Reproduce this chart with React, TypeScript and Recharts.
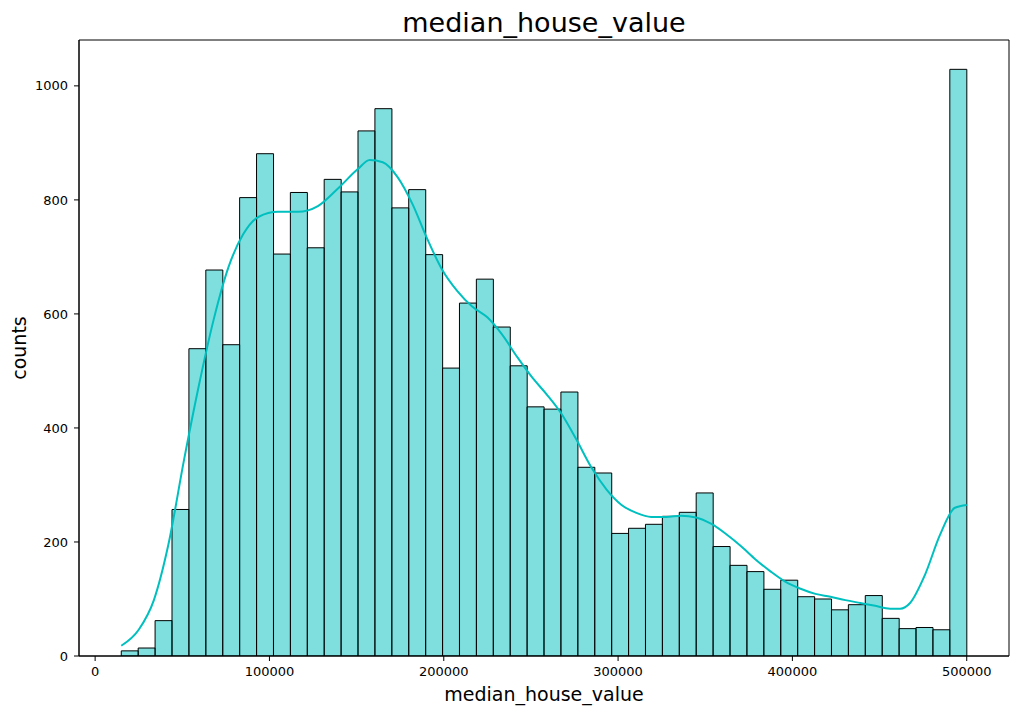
import React from 'react';
import { ComposedChart, Bar, Line, XAxis, YAxis, Customized, ReferenceArea } from 'recharts';

// ---- data ----
const BIN_MIN = 14999;
const BIN_MAX = 500001;
const COUNTS = [
  9, 14, 62, 257, 539, 677, 546, 804, 881, 705,
  813, 716, 836, 814, 921, 960, 786, 818, 704, 505,
  619, 661, 577, 509, 437, 433, 463, 331, 321, 215,
  224, 231, 245, 252, 286, 192, 159, 148, 117, 133,
  104, 100, 81, 90, 106, 66, 48, 50, 46, 1029,
];
const KDE_X = [
  15000, 25000, 33700, 42000, 51000, 59000, 68000, 76500, 85000, 93600,
  105000, 116400, 127800, 139000, 150700, 157500, 165000, 173500, 182000, 190600,
  199000, 207800, 216300, 225000, 233400, 242000, 250600, 259000, 267700, 276000,
  284800, 293400, 302000, 310500, 319000, 327600, 336200, 344700, 353300, 361900,
  370400, 379000, 387600, 396100, 404700, 413200, 421800, 430400, 438900, 447500,
  456000, 461800, 467500, 476000, 484600, 493200, 500000,
];
const KDE_Y = [
  18, 46, 98, 195, 344, 467, 590, 682, 740, 770,
  779, 779, 789, 819, 854, 870, 866, 840, 793, 731,
  678, 640, 613, 594, 564, 525, 489, 459, 424, 380,
  330, 292, 265, 251, 244, 244, 246, 243, 232, 214,
  193, 169, 148, 130, 118, 109, 104, 98, 93, 88,
  83, 83, 93, 142, 212, 260, 265,
];
const X_TICKS = [0, 100000, 200000, 300000, 400000, 500000];
const Y_TICKS = [0, 200, 400, 600, 800, 1000];
const TITLE = 'median_house_value';
const X_LABEL = 'median_house_value';
const Y_LABEL = 'counts';

const BIN_W = (BIN_MAX - BIN_MIN) / COUNTS.length;
const histData = COUNTS.map((c, i) => ({ x: BIN_MIN + (i + 0.5) * BIN_W, count: c }));
const kdeData = KDE_X.map((x, i) => ({ x, kde: KDE_Y[i] }));

const PAD = 0.05 * (BIN_MAX - BIN_MIN);
const X_DOMAIN: [number, number] = [BIN_MIN - PAD, BIN_MAX + PAD];
const Y_DOMAIN: [number, number] = [0, Math.max(...COUNTS) * 1.05];

const FONT = "'DejaVu Sans', Verdana, sans-serif";
const CYAN = '#00BFBF';

const Texts = () => (
  <g style={{ fontFamily: FONT }}>
    <text x={536} y={24} textAnchor="middle" fontSize={27} fill="#000">{TITLE}</text>
    <text x={536} y={693} textAnchor="middle" fontSize={19} fill="#000">{X_LABEL}</text>
    <text
      x={11}
      y={340}
      textAnchor="middle"
      fontSize={19}
      fill="#000"
      transform="rotate(-90 11 340)"
      dominantBaseline="central"
    >
      {Y_LABEL}
    </text>
  </g>
);

export default function App() {
  return (
    <div style={{ width: 1011, height: 707, fontFamily: FONT }}>
      <ComposedChart
        width={1011}
        height={707}
        data={histData}
        margin={{ top: 32, right: 10, bottom: 0, left: 0 }}
        barCategoryGap={0}
        barGap={0}
      >
        <XAxis
          xAxisId="bars"
          dataKey="x"
          type="number"
          domain={X_DOMAIN}
          ticks={X_TICKS}
          allowDataOverflow
          height={59}
          tickSize={5}
          tickMargin={6}
          tick={{ fontSize: 13, fill: '#000' }}
          axisLine={{ stroke: '#000' }}
          tickLine={{ stroke: '#000' }}
        />
        <XAxis
          xAxisId="kde"
          dataKey="x"
          type="number"
          domain={X_DOMAIN}
          allowDataOverflow
          hide
        />
        <YAxis
          yAxisId="left"
          type="number"
          domain={Y_DOMAIN}
          ticks={Y_TICKS}
          allowDataOverflow
          width={71}
          tickSize={5}
          tickMargin={6}
          tick={{ fontSize: 13, fill: '#000' }}
          axisLine={{ stroke: '#000' }}
          tickLine={{ stroke: '#000' }}
        />
        <ReferenceArea
          xAxisId="bars"
          yAxisId="left"
          x1={X_DOMAIN[0]}
          x2={X_DOMAIN[1]}
          y1={Y_DOMAIN[0]}
          y2={Y_DOMAIN[1]}
          fill="none"
          fillOpacity={0}
          stroke="#000"
          strokeWidth={1}
          strokeOpacity={1}
          ifOverflow="visible"
        />
        <Bar
          xAxisId="bars"
          yAxisId="left"
          dataKey="count"
          fill={CYAN}
          fillOpacity={0.5}
          stroke="#000"
          strokeWidth={1}
          isAnimationActive={false}
        />
        <Line
          xAxisId="kde"
          yAxisId="left"
          data={kdeData}
          dataKey="kde"
          type="monotone"
          stroke={CYAN}
          strokeWidth={2}
          dot={false}
          activeDot={false}
          isAnimationActive={false}
        />
        <Customized component={Texts} />
      </ComposedChart>
    </div>
  );
}
